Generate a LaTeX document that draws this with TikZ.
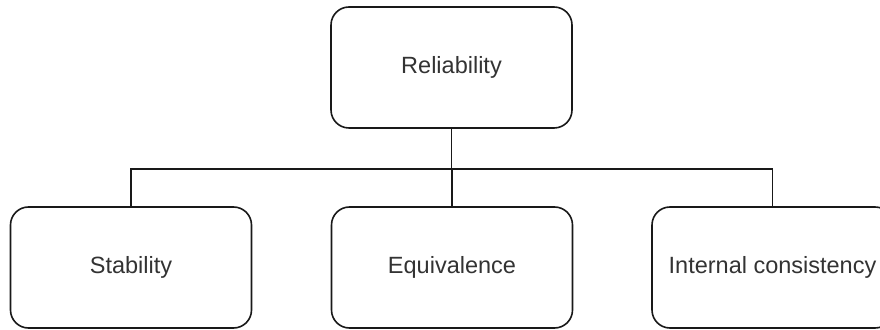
\documentclass[tikz,border=0pt]{standalone}
\usepackage{fontspec}
\setmainfont{Liberation Sans}
\usepackage{tikz}
\usetikzlibrary{positioning}

\begin{document}
\begin{tikzpicture}[
    x=1pt, y=1pt,
    font=\fontsize{23.5}{28}\selectfont,
    box/.style={draw=black!90, line width=1.6pt, rounded corners=18pt,
                minimum width=241pt, minimum height=121pt,
                align=center, fill=white, text=black!80},
    link/.style={draw=black!90, line width=1.6pt}
  ]
    \useasboundingbox (0,0) rectangle (880,329);
    \clip (0,0) rectangle (880,329);
    \node[box] (rel) at (451.5,261.5) {Reliability};
    \node[box] (stab) at (131,61.5) {Stability};
    \node[box] (equiv) at (452,61.5) {Equivalence};
    \node[box] (intcon) at (772.5,61.5) {Internal consistency};
    \draw[link] (rel.south) -- ++(0,-40) -| (stab.north);
    \draw[link] (rel.south) -- ++(0,-40) -| (equiv.north);
    \draw[link] (rel.south) -- ++(0,-40) -| (intcon.north);
  \end{tikzpicture}
\end{document}
